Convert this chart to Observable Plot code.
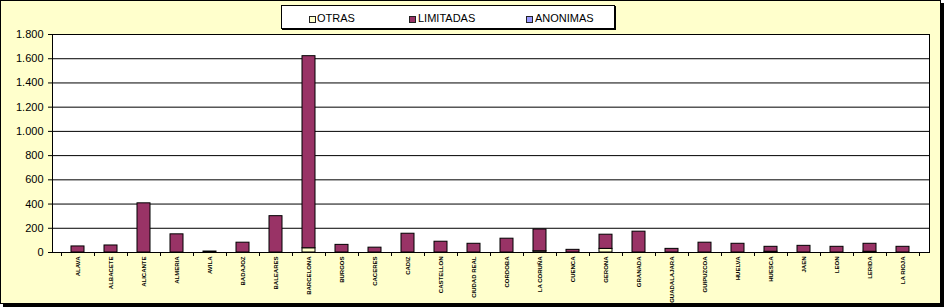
<!DOCTYPE html>
<html><head><meta charset="utf-8">
<script src="https://cdn.jsdelivr.net/npm/d3@7"></script>
<script src="https://cdn.jsdelivr.net/npm/@observablehq/plot@0.6"></script>
<style>
html,body{margin:0;padding:0;background:#fff;}
#wrap{position:relative;width:944px;height:308px;overflow:hidden}
#bg{position:absolute;left:0;top:0;width:939px;height:302px;background:#FFFFCC;border:1px solid #000;box-shadow:3px 3px 0 #000;}
#chart{position:absolute;left:0;top:0}
#legend{position:absolute;left:281px;top:5px;width:332px;height:22px;background:#fff;border:1px solid #000;box-shadow:1px 1px 0 #000;font:11px "Liberation Sans",Arial,sans-serif;color:#000}
.sw{position:absolute;top:10px;width:5px;height:5px;border:1px solid #222}
.lb{position:absolute;top:6px;line-height:13px;white-space:nowrap}
</style>
</head><body>
<div id="wrap"><div id="bg"></div><div id="chart"></div><div id="legend"></div></div>
<script>
const provinces = ["ALAVA","ALBACETE","ALICANTE","ALMERIA","AVILA","BADAJOZ","BALEARES","BARCELONA","BURGOS","CACERES","CADIZ","CASTELLON","CIUDAD REAL","CORDOBA","LA CORUÑA","CUENCA","GERONA","GRANADA","GUADALAJARA","GUIPUZCOA","HUELVA","HUESCA","JAEN","LEON","LERIDA","LA RIOJA"];
const series = ["OTRAS","LIMITADAS","ANONIMAS"];
const colors = ["#FFFFCC","#993366","#9999FF"];
const otras     = [0,0,0,0,0,0,0,35,0,0,0,0,0,0,10,0,30,0,0,0,0,6,0,0,6,0];
const limitadas = [50,58,406,150,8,81,300,1586,63,40,155,89,72,114,180,22,117,172,30,81,72,41,55,47,66,47];
const anonimas  = [0,0,0,0,0,0,0,0,0,0,0,0,0,0,0,0,0,0,0,0,0,0,0,0,0,0];
const yTicks = [0,200,400,600,800,1000,1200,1400,1600,1800];

const data = [];
provinces.forEach((p,i)=>{
  data.push({p, s:"OTRAS", v:otras[i]});
  data.push({p, s:"LIMITADAS", v:limitadas[i]});
  data.push({p, s:"ANONIMAS", v:anonimas[i]});
});
const fmt = d3.formatLocale({decimal:",", thousands:".", grouping:[3], currency:["",""]}).format(",d");

const boundaryTicks = (index, scales, values, dims) => {
  const x = scales.x;
  const step = x.step ? x.step() : (x(provinces[1]) - x(provinces[0]));
  const pad = x.paddingInner ? x.paddingInner() : 0.6;
  const y0 = dims.height - dims.marginBottom;
  const g = d3.create("svg:g").attr("stroke","#000").attr("stroke-width",1);
  const xs = provinces.map(p => x(p) - pad*step/2);
  xs.push(x(provinces[provinces.length-1]) + step - pad*step/2);
  xs.forEach(v => g.append("line").attr("x1",Math.round(v)+0.5).attr("x2",Math.round(v)+0.5).attr("y1",y0).attr("y2",y0+4));
  return g.node();
};

const chart = Plot.plot({
  width:944, height:308, marginLeft:52, marginRight:15, marginTop:34, marginBottom:56,
  style:{background:"transparent", fontFamily:"'Liberation Sans', Arial, sans-serif", color:"#000"},
  x:{domain:provinces, paddingInner:0.6, paddingOuter:0.3, label:null},
  y:{domain:[0,1800], label:null},
  color:{domain:series, range:colors},
  marks:[
    Plot.frame({fill:"white", stroke:null}),
    Plot.ruleY(yTicks.filter(t=>t>0), {stroke:"#000", strokeWidth:1, strokeOpacity:1}),
    Plot.barY(data, Plot.stackY({filter:d=>d.v>0, x:"p", y:"v", fill:"s", stroke:"#000", strokeWidth:1})),
    Plot.axisY({ticks:yTicks, tickFormat:fmt, tickSize:4, tickPadding:5, fontSize:11, label:null, stroke:"#000"}),
    Plot.axisX({tickSize:0, tickRotate:-90, tickPadding:4, fontSize:6, fontWeight:"bold", label:null}),
    boundaryTicks,
    Plot.frame({stroke:"#000", strokeWidth:1})
  ]
});
document.getElementById("chart").appendChild(chart);

const leg = document.getElementById("legend");
const swX = [27,127,244], lbX = [35,136,253];
series.forEach((s,i)=>{
  const sw = document.createElement("div"); sw.className="sw"; sw.style.left=swX[i]+"px"; sw.style.background=colors[i]; leg.appendChild(sw);
  const lb = document.createElement("div"); lb.className="lb"; lb.style.left=lbX[i]+"px"; lb.textContent=s; leg.appendChild(lb);
});
</script>
</body></html>
